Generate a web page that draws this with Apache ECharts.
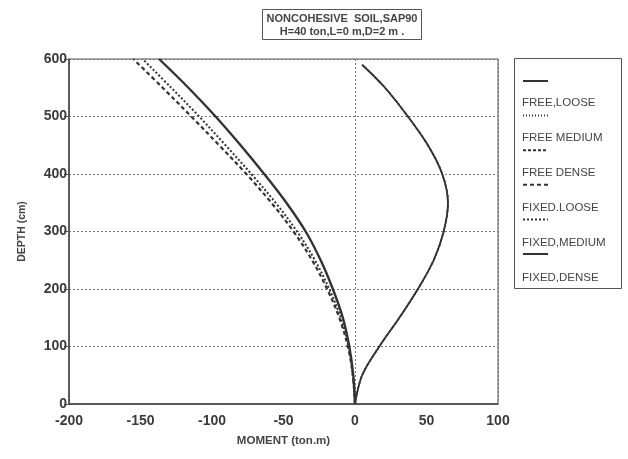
<!DOCTYPE html>
<html>
<head>
<meta charset="utf-8">
<script src="https://cdn.jsdelivr.net/npm/echarts@6/dist/echarts.min.js"></script>
<style>
  html, body { margin: 0; padding: 0; background: #fff; }
  #chart { width: 628px; height: 459px; }
</style>
</head>
<body>
<div id="chart"></div>
<script>
// Depth stations (cm) for the fixed-head runs
const fixedDepth = [0, 50, 100, 150, 200, 250, 300, 350, 400, 450, 500, 550, 600];
// Depth stations (cm) for the free-head runs
const freeDepth = [0, 50, 100, 150, 200, 250, 300, 350, 400, 450, 500, 550, 590];

// Bending moment (ton.m)
const freeLoose   = [0, 5, 17, 31, 44, 55, 62, 65, 61, 51, 37, 21, 5];
const freeMedium  = [0, 5, 17, 31, 44, 55, 62, 65, 61, 51, 37, 21, 5];
const freeDense   = [0, 5, 17, 31, 44, 55, 62, 65, 61, 51, 37, 21, 5];
const fixedLoose  = [0, -1.5, -5, -11, -19.5, -30, -43, -58.5, -76, -95, -114.5, -134.5, -155];
const fixedMedium = [0, -1.5, -4.5, -10, -18, -28, -40.5, -55.5, -72.5, -90.5, -109, -128.5, -148.5];
const fixedDense  = [0, -1.2, -4, -8.5, -15.5, -24, -34.5, -48, -63.5, -80, -97.5, -116.5, -137];

const seriesNames = ['FREE,LOOSE', 'FREE MEDIUM', 'FREE DENSE', 'FIXED.LOOSE', 'FIXED,MEDIUM', 'FIXED,DENSE'];

const xTicks = { min: -200, max: 100, interval: 50 };
const yTicks = { min: 0, max: 600, interval: 100 };

const ink = '#333333';
const gridDots = { color: '#777', type: [2, 2], width: 1 };

function pairs(moments, depths) {
  return moments.map((m, i) => [m, depths[i]]);
}

function curve(name, moments, depths, lineStyle) {
  return {
    name: name,
    type: 'line',
    smooth: 0.35,
    symbol: 'none',
    data: pairs(moments, depths),
    lineStyle: Object.assign({ color: ink }, lineStyle),
    itemStyle: { color: ink }
  };
}

const chart = echarts.init(document.getElementById('chart'), null, { renderer: 'canvas' });

chart.setOption({
  animation: false,
  backgroundColor: '#ffffff',
  textStyle: { fontFamily: 'Liberation Sans, Arial, sans-serif' },
  title: {
    text: 'NONCOHESIVE  SOIL,SAP90\nH=40 ton,L=0 m,D=2 m .',
    left: 338,
    top: 9,
    textAlign: 'center',
    borderColor: '#555',
    borderWidth: 1,
    padding: [3, 4, 2, 4],
    textStyle: { fontSize: 11, fontWeight: 'bold', color: '#444', lineHeight: 13 }
  },
  grid: {
    left: 69, right: 130, top: 59, bottom: 55,
    show: true, borderColor: '#555', borderWidth: 1, backgroundColor: 'transparent'
  },
  legend: [
    {
      // line samples
      orient: 'vertical',
      left: 522, top: 74,
      padding: 0,
      itemWidth: 25, itemHeight: 14, itemGap: 22,
      data: seriesNames,
      formatter: () => '',
      selectedMode: false,
      itemStyle: { opacity: 0 },
      textStyle: { fontSize: 1 }
    },
    {
      // entry names
      orient: 'vertical',
      left: 513, top: 96,
      padding: 0,
      icon: 'none',
      itemWidth: 4, itemHeight: 14, itemGap: 22,
      data: seriesNames,
      selectedMode: false,
      textStyle: { fontSize: 11.5, color: '#444' }
    }
  ],
  graphic: [{
    type: 'rect',
    shape: { x: 514.5, y: 58.5, width: 107, height: 230 },
    style: { fill: 'none', stroke: '#555', lineWidth: 1 },
    silent: true
  }],
  xAxis: [
    {
      type: 'value',
      min: xTicks.min, max: xTicks.max, interval: xTicks.interval,
      name: 'MOMENT (ton.m)',
      nameLocation: 'middle',
      nameGap: 31,
      nameTextStyle: { fontSize: 11.5, fontWeight: 'bold', color: '#444' },
      axisLine: { show: true, onZero: false, lineStyle: { color: '#444', width: 1.5 } },
      axisTick: { show: false },
      axisLabel: { fontSize: 14, fontWeight: 'bold', color: '#3a3a3a', margin: 10 },
      splitLine: { show: false }
    },
    {
      // carries only the dotted zero-moment line
      type: 'value',
      position: 'bottom',
      min: -200, max: 100, interval: 200,
      axisLine: { show: false, onZero: false },
      axisTick: { show: false },
      axisLabel: { show: false },
      splitLine: { show: true, lineStyle: gridDots }
    }
  ],
  yAxis: {
    type: 'value',
    min: yTicks.min, max: yTicks.max, interval: yTicks.interval,
    name: 'DEPTH (cm)',
    nameLocation: 'middle',
    nameGap: 41,
    nameRotate: 90,
    nameTextStyle: { fontSize: 10.5, fontWeight: 'bold', color: '#444' },
    axisLine: { show: true, onZero: false, lineStyle: { color: '#444', width: 1.5 } },
    axisTick: { show: true, length: 5, lineStyle: { color: '#555' } },
    axisLabel: { fontSize: 14, fontWeight: 'bold', color: '#3a3a3a', margin: 2 },
    splitLine: { show: true, lineStyle: gridDots }
  },
  series: [
    curve(seriesNames[0], freeLoose, freeDepth, { width: 1.8, type: 'solid' }),
    curve(seriesNames[1], freeMedium, freeDepth, { width: 1.6, type: [1, 2] }),
    curve(seriesNames[2], freeDense, freeDepth, { width: 1.6, type: [3, 2] }),
    curve(seriesNames[3], fixedLoose, fixedDepth, { width: 2.2, type: [4, 3] }),
    curve(seriesNames[4], fixedMedium, fixedDepth, { width: 2, type: [2, 2] }),
    curve(seriesNames[5], fixedDense, fixedDepth, { width: 2.4, type: 'solid' })
  ]
});
</script>
</body>
</html>
